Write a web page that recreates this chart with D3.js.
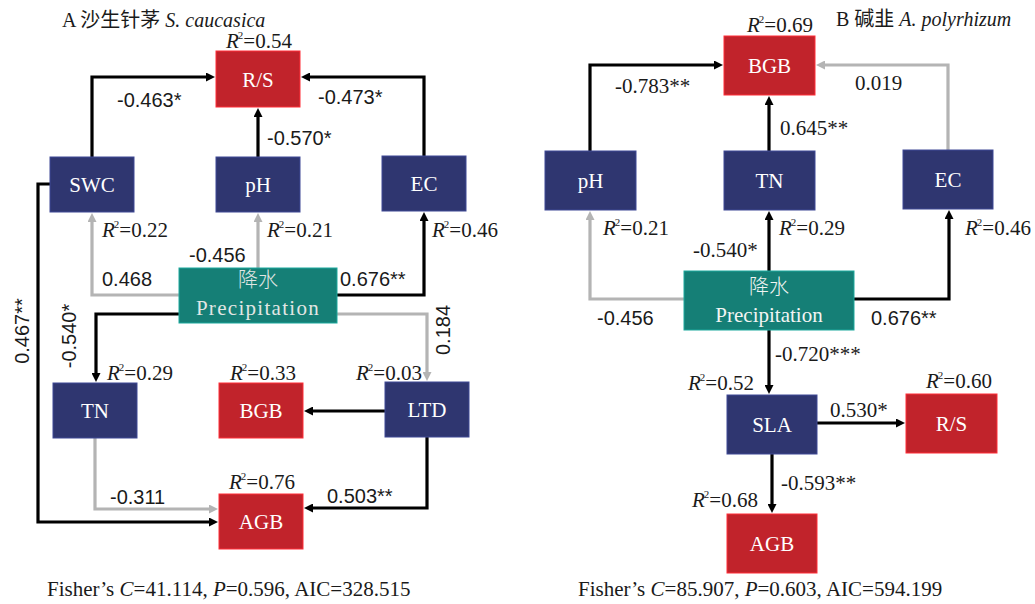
<!DOCTYPE html>
<html>
<head>
<meta charset="utf-8">
<script src="https://cdn.jsdelivr.net/npm/d3@7"></script>
<style>
  html, body { margin: 0; padding: 0; background: #fff; }
  svg text { font-family: "Liberation Serif", "Noto Sans CJK SC", serif; }
  svg text.sans { font-family: "Liberation Sans", Arial, sans-serif; }
</style>
</head>
<body>
<svg id="chart" width="1035" height="604"></svg>
<script>
'use strict';

/* global d3 */

// ---- data ---------------------------------------------------------------
// node: id, box label, kind (soil / plant / climate), R2 (null = exogenous)
var nodesA = [
  {id: 'RS', label: 'R/S', kind: 'plant', r2: '0.54'},
  {id: 'SWC', label: 'SWC', kind: 'soil', r2: '0.22'},
  {id: 'pH', label: 'pH', kind: 'soil', r2: '0.21'},
  {id: 'EC', label: 'EC', kind: 'soil', r2: '0.46'},
  {id: 'P', label: 'Precipitation', cn: '降水', kind: 'climate', r2: null},
  {id: 'TN', label: 'TN', kind: 'soil', r2: '0.29'},
  {id: 'BGB', label: 'BGB', kind: 'plant', r2: '0.33'},
  {id: 'LTD', label: 'LTD', kind: 'soil', r2: '0.03'},
  {id: 'AGB', label: 'AGB', kind: 'plant', r2: '0.76'}
];
// edge: from, to, path coefficient ('' = not labelled), significant?
var edgesA = [
  {from: 'SWC', to: 'RS', coef: '-0.463*', sig: true},
  {from: 'pH', to: 'RS', coef: '-0.570*', sig: true},
  {from: 'EC', to: 'RS', coef: '-0.473*', sig: true},
  {from: 'P', to: 'SWC', coef: '0.468', sig: false},
  {from: 'P', to: 'pH', coef: '-0.456', sig: false},
  {from: 'P', to: 'EC', coef: '0.676**', sig: true},
  {from: 'P', to: 'TN', coef: '-0.540*', sig: true},
  {from: 'P', to: 'LTD', coef: '0.184', sig: false},
  {from: 'SWC', to: 'AGB', coef: '0.467**', sig: true},
  {from: 'LTD', to: 'BGB', coef: '', sig: true},
  {from: 'TN', to: 'AGB', coef: '-0.311', sig: false},
  {from: 'LTD', to: 'AGB', coef: '0.503**', sig: true}
];
var fitA = {C: '41.114', P: '0.596', AIC: '328.515'};

var nodesB = [
  {id: 'BGB', label: 'BGB', kind: 'plant', r2: '0.69'},
  {id: 'pH', label: 'pH', kind: 'soil', r2: '0.21'},
  {id: 'TN', label: 'TN', kind: 'soil', r2: '0.29'},
  {id: 'EC', label: 'EC', kind: 'soil', r2: '0.46'},
  {id: 'P', label: 'Precipitation', cn: '降水', kind: 'climate', r2: null},
  {id: 'SLA', label: 'SLA', kind: 'soil', r2: '0.52'},
  {id: 'RS', label: 'R/S', kind: 'plant', r2: '0.60'},
  {id: 'AGB', label: 'AGB', kind: 'plant', r2: '0.68'}
];
var edgesB = [
  {from: 'pH', to: 'BGB', coef: '-0.783**', sig: true},
  {from: 'TN', to: 'BGB', coef: '0.645**', sig: true},
  {from: 'EC', to: 'BGB', coef: '0.019', sig: false},
  {from: 'P', to: 'pH', coef: '-0.456', sig: false},
  {from: 'P', to: 'TN', coef: '-0.540*', sig: true},
  {from: 'P', to: 'EC', coef: '0.676**', sig: true},
  {from: 'P', to: 'SLA', coef: '-0.720***', sig: true},
  {from: 'SLA', to: 'RS', coef: '0.530*', sig: true},
  {from: 'SLA', to: 'AGB', coef: '-0.593**', sig: true}
];
var fitB = {C: '85.907', P: '0.603', AIC: '594.199'};

// ---- layout (pixels) ----------------------------------------------------
var layoutA = {
  title: {x: 62, y: 27, cn: 'A 沙生针茅 ', sp: 'S. caucasica'},
  fit: {x: 47, y: 596},
  boxes: {
    RS: [216, 51, 84, 56], SWC: [50, 157, 84, 55], pH: [216, 157, 84, 55],
    EC: [382, 156, 84, 55], P: [179, 268, 158, 55], TN: [53, 383, 84, 55],
    BGB: [219, 383, 84, 55], LTD: [385, 382, 84, 55], AGB: [219, 494, 84, 55]
  },
  precip: {cnY: 287, enY: 315, spacing: 1.3, fill: '#e2e6e4'},
  r2: {
    RS: [226, 48], SWC: [102, 237], pH: [267, 237], EC: [432, 237], TN: [107, 380],
    BGB: [230, 380], LTD: [356, 380], AGB: [229, 489]
  },
  routes: {
    'SWC-RS': [[92, 157], [92, 77], [216, 77]],
    'pH-RS': [[258, 157], [258, 107]],
    'EC-RS': [[424, 156], [424, 77], [300, 77]],
    'P-SWC': [[179, 295], [92, 295], [92, 212]],
    'P-pH': [[258, 268], [258, 212]],
    'P-EC': [[337, 295], [424, 295], [424, 211]],
    'P-TN': [[179, 314], [96, 314], [96, 383]],
    'P-LTD': [[337, 314], [427, 314], [427, 382]],
    'SWC-AGB': [[50, 184], [38, 184], [38, 522], [219, 522]],
    'LTD-BGB': [[385, 411], [303, 411]],
    'TN-AGB': [[95, 438], [95, 509], [219, 509]],
    'LTD-AGB': [[427, 437], [427, 508], [303, 508]]
  },
  // [x, y, rotated, sans]
  coefs: {
    'SWC-RS': [117, 107, false, true], 'pH-RS': [267, 145, false, true],
    'EC-RS': [318, 104, false, true], 'P-SWC': [102, 286, false, true],
    'P-pH': [189, 262, false, true], 'P-EC': [340, 286, false, true],
    'P-TN': [76, 336, true, true], 'P-LTD': [450, 330, true, true],
    'SWC-AGB': [29, 331, true, true], 'TN-AGB': [110, 504, false, true],
    'LTD-AGB': [327, 503, false, true]
  }
};

var layoutB = {
  title: {x: 836, y: 26, cn: 'B 碱韭 ', sp: 'A. polyrhizum'},
  fit: {x: 578, y: 596},
  boxes: {
    BGB: [724, 36, 91, 59], pH: [545, 151, 91, 59], TN: [724, 151, 91, 59],
    EC: [903, 150, 90, 59], P: [684, 271, 170, 59], SLA: [727, 395, 90, 59],
    RS: [906, 394, 91, 59], AGB: [727, 514, 90, 59]
  },
  precip: {cnY: 294, enY: 322, spacing: 0, fill: '#f2f4f3'},
  r2: {
    BGB: [747, 32], pH: [603, 235], TN: [779, 235], EC: [965, 235],
    SLA: [688, 390], RS: [926, 388], AGB: [692, 507]
  },
  routes: {
    'pH-BGB': [[590, 151], [590, 65], [724, 65]],
    'TN-BGB': [[769, 151], [769, 95]],
    'EC-BGB': [[948, 150], [948, 65], [815, 65]],
    'P-pH': [[684, 299], [590, 299], [590, 210]],
    'P-TN': [[769, 271], [769, 210]],
    'P-EC': [[854, 299], [949, 299], [949, 209]],
    'P-SLA': [[769, 330], [769, 395]],
    'SLA-RS': [[817, 423], [906, 423]],
    'SLA-AGB': [[772, 454], [772, 514]]
  },
  coefs: {
    'pH-BGB': [615, 93], 'TN-BGB': [780, 135], 'EC-BGB': [855, 90],
    'P-pH': [597, 325, false, true], 'P-TN': [693, 257], 'P-EC': [871, 325, false, true],
    'P-SLA': [775, 361], 'SLA-RS': [830, 417], 'SLA-AGB': [781, 490]
  }
};

var colors = {plant: '#c1232b', soil: '#2f3670', climate: '#157f76'};
var lineColor = {sig: '#000', ns: '#b4b4b4'};
var fontSize = 21;
var arrowLen = 10;

// ---- drawing ------------------------------------------------------------
var svg = d3.select('#chart');
var x = d3.scaleIdentity().domain([0, 1035]);
var y = d3.scaleIdentity().domain([0, 604]);
var line = d3.line().x(function(d) { return x(d[0]); }).y(function(d) { return y(d[1]); });

var defs = svg.append('defs');
['sig', 'ns'].forEach(function(k) {
  defs.append('marker')
    .attr('id', 'arrow-' + k)
    .attr('viewBox', '0 0 10 10')
    .attr('refX', 0)
    .attr('refY', 5)
    .attr('markerWidth', arrowLen)
    .attr('markerHeight', 9)
    .attr('markerUnits', 'userSpaceOnUse')
    .attr('orient', 'auto')
    .append('path')
    .attr('d', 'M0,0L10,5L0,10z')
    .attr('fill', lineColor[k]);
});

// pull the last point back so the arrow tip lands on the box edge
function trimEnd(pts) {
  var out = pts.map(function(p) { return p.slice(); });
  var a = out[out.length - 2], b = out[out.length - 1];
  var dx = b[0] - a[0], dy = b[1] - a[1];
  var len = Math.sqrt(dx * dx + dy * dy);
  b[0] -= dx / len * arrowLen;
  b[1] -= dy / len * arrowLen;
  return out;
}

function r2Text(sel, val) {
  sel.append('tspan').attr('font-style', 'italic').text('R');
  sel.append('tspan').attr('font-size', 11).attr('dy', -9).attr('dx', -1).text('2');
  sel.append('tspan').attr('dy', 9).text('=' + val);
}

function drawPanel(nodes, edges, fit, lay) {
  var g = svg.append('g');

  // paths first, boxes on top
  edges.forEach(function(e) {
    var key = e.from + '-' + e.to;
    var k = e.sig ? 'sig' : 'ns';
    g.append('path')
      .attr('d', line(trimEnd(lay.routes[key])))
      .attr('fill', 'none')
      .attr('stroke', lineColor[k])
      .attr('stroke-width', 3.2)
      .attr('stroke-linejoin', 'miter')
      .attr('marker-end', 'url(#arrow-' + k + ')');

    var c = lay.coefs[key];
    if (!e.coef || !c) { return; }
    var t = g.append('text')
      .attr('class', c[3] ? 'sans' : null)
      .attr('font-size', c[3] ? 20 : fontSize)
      .attr('fill', '#1a1a1a')
      .text(e.coef);
    if (c[2]) {
      t.attr('text-anchor', 'middle')
        .attr('transform', 'translate(' + x(c[0]) + ',' + y(c[1]) + ') rotate(-90)');
    } else {
      t.attr('x', x(c[0])).attr('y', y(c[1]));
    }
  });

  nodes.forEach(function(n) {
    var b = lay.boxes[n.id];
    g.append('rect')
      .attr('x', x(b[0])).attr('y', y(b[1]))
      .attr('width', b[2]).attr('height', b[3])
      .attr('fill', colors[n.kind])
      .attr('stroke', d3.color(colors[n.kind]).brighter(0.8))
      .attr('stroke-width', 1);

    var cx = b[0] + b[2] / 2;
    if (n.cn) {
      g.append('text')
        .attr('x', x(cx)).attr('y', y(lay.precip.cnY))
        .attr('text-anchor', 'middle')
        .attr('font-size', 20)
        .attr('font-family', '"Noto Sans CJK SC", sans-serif')
        .attr('font-weight', 300)
        .attr('fill', lay.precip.fill)
        .text(n.cn);
      g.append('text')
        .attr('x', x(cx)).attr('y', y(lay.precip.enY))
        .attr('text-anchor', 'middle')
        .attr('font-size', fontSize)
        .attr('letter-spacing', lay.precip.spacing)
        .attr('fill', lay.precip.fill)
        .text(n.label);
    } else {
      g.append('text')
        .attr('x', x(cx)).attr('y', y(b[1] + b[3] / 2 + 7.5))
        .attr('text-anchor', 'middle')
        .attr('font-size', fontSize)
        .attr('fill', '#fff')
        .text(n.label);
    }

    if (n.r2 !== null) {
      var p = lay.r2[n.id];
      g.append('text')
        .attr('x', x(p[0])).attr('y', y(p[1]))
        .attr('font-size', fontSize)
        .attr('fill', '#1a1a1a')
        .call(r2Text, n.r2);
    }
  });

  // panel title
  var title = g.append('text')
    .attr('x', x(lay.title.x)).attr('y', y(lay.title.y))
    .attr('font-size', 20)
    .attr('fill', '#1a1a1a');
  title.append('tspan').text(lay.title.cn);
  title.append('tspan').attr('font-style', 'italic').text(lay.title.sp);

  // model fit
  var f = g.append('text')
    .attr('x', x(lay.fit.x)).attr('y', y(lay.fit.y))
    .attr('font-size', fontSize)
    .attr('fill', '#1a1a1a');
  f.append('tspan').text('Fisher\u2019s ');
  f.append('tspan').attr('font-style', 'italic').text('C');
  f.append('tspan').text('=' + fit.C + ', ');
  f.append('tspan').attr('font-style', 'italic').text('P');
  f.append('tspan').text('=' + fit.P + ', AIC=' + fit.AIC);
}

drawPanel(nodesA, edgesA, fitA, layoutA);
drawPanel(nodesB, edgesB, fitB, layoutB);
</script>
</body>
</html>
